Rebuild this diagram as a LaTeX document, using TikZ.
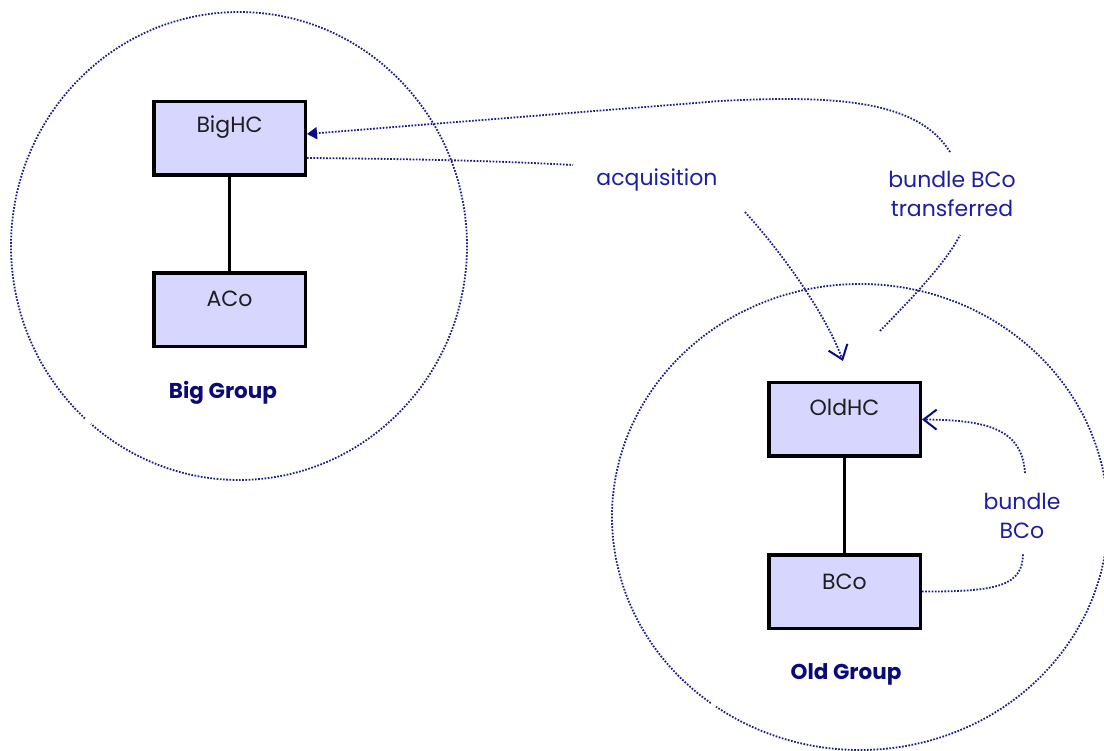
\documentclass[tikz,border=0pt]{standalone}
\usepackage{fontspec}
\setmainfont{Poppins}
\usetikzlibrary{arrows.meta}
\definecolor{boxfill}{RGB}{214,214,255}
\definecolor{dotblue}{RGB}{30,30,135}
\definecolor{lblblue}{RGB}{30,30,160}
\definecolor{grpblue}{RGB}{10,10,120}
\definecolor{tipblue}{RGB}{10,10,130}
\definecolor{boxtxt}{RGB}{30,30,30}
\begin{document}
\begin{tikzpicture}[x=1pt,y=-1pt,
  box/.style={draw=black, line width=3.5pt, fill=boxfill, minimum width=151.5pt, minimum height=73.5pt, inner sep=0pt},
  boxtext/.style={anchor=base, text=boxtxt, font=\fontsize{22}{26}\selectfont, inner sep=0pt},
  lbl/.style={text=lblblue, font=\fontsize{22}{29}\selectfont, align=center, inner sep=0pt},
  grp/.style={anchor=base, text=grpblue, font=\fontsize{21.5}{26}\selectfont\bfseries, inner sep=0pt},
  link/.style={draw=black, line width=2.5pt},
  dotline/.style={draw=dotblue, line width=1.8pt, dash pattern=on 1.7pt off 1.5pt},
  barb/.style={-{Straight Barb[length=13pt, width=20pt, line width=2pt, color=tipblue]}},
  tri/.style={-{Triangle[length=10pt, width=12pt, color=tipblue]}}
]
\useasboundingbox (0,0) rectangle (1104,751);
\clip (0,0) rectangle (1104,751);

% group circles
\draw[dotline] (239,246) ++(132.5:228 and 234) arc[start angle=132.5, delta angle=358, x radius=228, y radius=234];
\draw[dotline] (860,517) ++(127:248 and 233) arc[start angle=127, delta angle=358.5, x radius=248, y radius=233];

% boxes
\node[box] (BigHC) at (229.5,138.5) {};
\node[box] (ACo) at (229.5,310) {};
\node[box] (OldHC) at (844.5,419.5) {};
\node[box] (BCo) at (844.5,591.5) {};

\node[boxtext] (tBigHC) at (229.5,133) {BigHC};
\node[boxtext] (tACo) at (229.5,307) {ACo};
\node[boxtext] (tOldHC) at (844.5,416) {OldHC};
\node[boxtext] (tBCo) at (844.5,589) {BCo};

\draw[link] (BigHC) -- (ACo);
\draw[link] (OldHC) -- (BCo);

% group labels
\node[grp] (gBig) at (223,399) {Big Group};
\node[grp] (gOld) at (846,679) {Old Group};

% edge labels
\node[lbl, anchor=base] (lAcq) at (657,186) {acquisition};
\node[lbl] (lTrans) at (952,194) {bundle BCo\\transferred};
\node[lbl] (lBundle) at (1022,516) {bundle\\BCo};

% acquisition
\coordinate (acqA) at (573,165);
\coordinate (acqB) at (745,212);
\coordinate (acqTip) at (843,361);
\draw[dotline] ([yshift=-19.5pt]BigHC.east) .. controls (420,159) and (500,161) .. (acqA);
\draw[dotline, barb] (acqB) .. controls (790,262) and (828,320) .. (acqTip);

% bundle BCo transferred
\coordinate (trA) at (880,331);
\coordinate (trB) at (960,235);
\coordinate (trC) at (950,152);
\coordinate (trD) at (720,101);
\draw[dotline] (trA) .. controls (905,305) and (945,265) .. (trB);
\draw[dotline, tri] (trC) .. controls (918,100) and (835,95) .. (trD) -- ([yshift=4.5pt]BigHC.east);

% bundle BCo
\coordinate (bbA) at (1023,553);
\coordinate (bbB) at (1025,473);
\draw[dotline] (BCo.east) .. controls (1000,592) and (1023,585) .. (bbA);
\draw[dotline, barb] (bbB) .. controls (1022,430) and (990,420) .. (OldHC.east);
\end{tikzpicture}
\end{document}
